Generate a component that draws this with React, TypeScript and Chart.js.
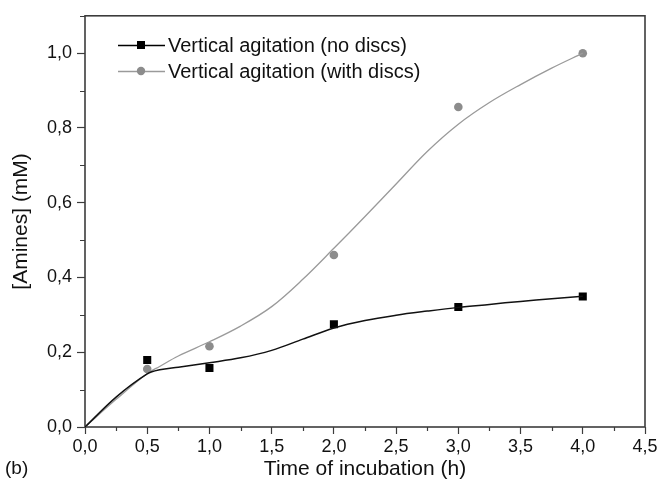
import React, { useEffect, useRef } from 'react';
import { Chart, registerables } from 'chart.js';

Chart.register(...registerables);

const FONT = '"Liberation Sans", Arial, Helvetica, sans-serif';

// Measured amine concentrations (mM) at each incubation time (h)
const sampleTimes = [0.5, 1, 2, 3, 4];
const aminesNoDiscs = [0.179, 0.158, 0.275, 0.321, 0.349];
const aminesWithDiscs = [0.155, 0.216, 0.46, 0.856, 1.0];

// Smoothed trend curves for both conditions
const fitTimes = [0, 0.25, 0.5, 0.6, 0.75, 1, 1.25, 1.5, 1.75, 2, 2.25, 2.5, 2.75, 3, 3.25, 3.5, 3.75, 4];
const fitNoDiscs = [0, 0.08, 0.142, 0.153, 0.16, 0.172, 0.185, 0.205, 0.235, 0.265, 0.285, 0.299, 0.31, 0.32, 0.328, 0.336, 0.343, 0.35];
const fitWithDiscs = [0, 0.074, 0.143, 0.162, 0.19, 0.228, 0.27, 0.322, 0.395, 0.478, 0.563, 0.65, 0.737, 0.81, 0.868, 0.916, 0.96, 1.0];

const seriesLabels = ['Vertical agitation (no discs)', 'Vertical agitation (with discs)'];
const xTitle = 'Time of incubation (h)';
const yTitle = '[Amines] (mM)';
const panelLabel = '(b)';

const xRange = [0, 4.5];
const yRange = [0, 1.1];
const xMajorStep = 0.5;
const yMajorStep = 0.2;

const AXIS = '#3c3c3c';
const DARK = '#000000';
const LIGHT = '#8c8c8c';
const LIGHT_LINE = '#9a9a9a';

const commaDecimal = (v: number) => v.toFixed(1).replace('.', ',');

const pairs = (xs: number[], ys: number[]) => xs.map((x, i) => ({ x, y: ys[i] }));

// Box around the plotting area plus the short minor ticks between labelled ticks
const framePlugin = {
  id: 'frame',
  beforeDatasetsDraw(chart: any) {
    const { ctx, chartArea: a, scales } = chart;
    ctx.save();
    ctx.strokeStyle = AXIS;
    ctx.lineWidth = 1.6;
    ctx.strokeRect(a.left, a.top, a.right - a.left, a.bottom - a.top);
    ctx.lineWidth = 1.2;
    ctx.beginPath();
    for (let v = xRange[0] + xMajorStep / 2; v < xRange[1]; v += xMajorStep) {
      const px = Math.round(scales.x.getPixelForValue(v)) + 0.5;
      ctx.moveTo(px, a.bottom);
      ctx.lineTo(px, a.bottom + 4);
    }
    for (let v = yRange[0] + yMajorStep / 2; v < yRange[1]; v += yMajorStep) {
      const py = Math.round(scales.y.getPixelForValue(v)) + 0.5;
      ctx.moveTo(a.left, py);
      ctx.lineTo(a.left - 5, py);
    }
    ctx.stroke();
    ctx.restore();
  },
};

// Legend entries drawn as line–marker–line, plus the panel tag
const legendPlugin = {
  id: 'inlineLegend',
  afterDraw(chart: any) {
    const { ctx } = chart;
    const entries = [
      { label: seriesLabels[0], line: DARK, fill: DARK, shape: 'rect' },
      { label: seriesLabels[1], line: LIGHT_LINE, fill: LIGHT, shape: 'circle' },
    ];
    ctx.save();
    entries.forEach((e, i) => {
      const y = 45 + i * 26;
      ctx.strokeStyle = e.line;
      ctx.lineWidth = 1.4;
      ctx.beginPath();
      ctx.moveTo(118, y + 0.5);
      ctx.lineTo(165, y + 0.5);
      ctx.stroke();
      ctx.fillStyle = e.fill;
      if (e.shape === 'rect') {
        ctx.fillRect(137, y - 4, 8, 8);
      } else {
        ctx.beginPath();
        ctx.arc(141, y, 4.2, 0, Math.PI * 2);
        ctx.fill();
      }
      ctx.fillStyle = '#111';
      ctx.font = `20px ${FONT}`;
      ctx.textBaseline = 'middle';
      ctx.textAlign = 'left';
      ctx.fillText(e.label, 168, y + 1);
    });
    ctx.fillStyle = '#111';
    ctx.font = `19px ${FONT}`;
    ctx.textBaseline = 'middle';
    ctx.fillText(panelLabel, 5, 469);
    ctx.restore();
  },
};

export default function App() {
  const canvasRef = useRef<HTMLCanvasElement | null>(null);

  useEffect(() => {
    document.body.style.margin = '0';
    const canvas = canvasRef.current;
    if (!canvas) return;

    const chart = new Chart(canvas, {
      type: 'scatter',
      data: {
        datasets: [
          {
            label: 'fit-no-discs',
            data: pairs(fitTimes, fitNoDiscs),
            showLine: true,
            borderColor: '#111111',
            borderWidth: 1.5,
            pointRadius: 0,
            tension: 0.35,
          },
          {
            label: 'fit-with-discs',
            data: pairs(fitTimes, fitWithDiscs),
            showLine: true,
            borderColor: LIGHT_LINE,
            borderWidth: 1.3,
            pointRadius: 0,
            tension: 0.35,
          },
          {
            label: seriesLabels[0],
            data: pairs(sampleTimes, aminesNoDiscs),
            showLine: false,
            pointStyle: 'rect',
            pointRadius: 5.7,
            backgroundColor: DARK,
            borderColor: DARK,
            borderWidth: 0,
          },
          {
            label: seriesLabels[1],
            data: pairs(sampleTimes, aminesWithDiscs),
            showLine: false,
            pointStyle: 'circle',
            pointRadius: 4.3,
            backgroundColor: LIGHT,
            borderColor: LIGHT,
            borderWidth: 0,
          },
        ],
      },
      options: {
        responsive: false,
        animation: false,
        devicePixelRatio: 1,
        layout: { padding: { top: 15, right: 16, left: 0, bottom: 0 } },
        plugins: {
          legend: { display: false },
          tooltip: { enabled: false },
        },
        scales: {
          x: {
            type: 'linear',
            min: xRange[0],
            max: xRange[1],
            afterFit: (s: any) => { s.height = 62; },
            border: { display: false },
            grid: {
              drawOnChartArea: false,
              drawTicks: true,
              tickLength: 7,
              tickWidth: 1.2,
              tickColor: AXIS,
            },
            ticks: {
              stepSize: xMajorStep,
              padding: 2,
              color: '#111',
              font: { family: FONT, size: 18 },
              maxRotation: 0,
              callback: (v: any) => commaDecimal(Number(v)),
            },
            title: {
              display: true,
              text: xTitle,
              color: '#111',
              font: { family: FONT, size: 21 },
              padding: { top: 0, bottom: 7 },
            },
          },
          y: {
            type: 'linear',
            min: yRange[0],
            max: yRange[1],
            afterFit: (s: any) => { s.width = 85; },
            border: { display: false },
            grid: {
              drawOnChartArea: false,
              drawTicks: true,
              tickLength: 8,
              tickWidth: 1.2,
              tickColor: AXIS,
            },
            ticks: {
              stepSize: yMajorStep,
              includeBounds: false,
              padding: 5,
              color: '#111',
              font: { family: FONT, size: 18 },
              callback: (v: any) => commaDecimal(Number(v)),
            },
            title: {
              display: true,
              text: yTitle,
              color: '#111',
              font: { family: FONT, size: 21 },
              padding: { top: 9, bottom: 0 },
            },
          },
        },
      },
      plugins: [framePlugin, legendPlugin],
    } as any);

    return () => chart.destroy();
  }, []);

  return (
    <div style={{ width: 661, height: 489, background: '#fff' }}>
      <canvas ref={canvasRef} width={661} height={489} style={{ display: 'block' }} />
    </div>
  );
}
